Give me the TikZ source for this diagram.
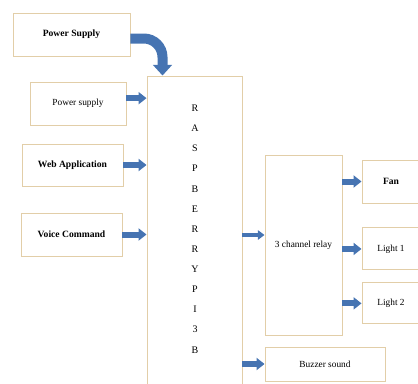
\documentclass[tikz,border=0pt]{standalone}
\usepackage{fontspec}
\setmainfont{Liberation Serif}
\usetikzlibrary{positioning,arrows.meta}
\definecolor{boxtan}{RGB}{226,206,168}
\definecolor{arrblue}{RGB}{70,116,178}

\begin{document}
\begin{tikzpicture}[x=0.75pt,y=-0.75pt,
    every node/.style={inner sep=0pt},
    blk/.style={draw=boxtan,line width=0.7pt,fill=white,align=center,font=\fontsize{7}{8}\selectfont},
    bblk/.style={blk,font=\fontsize{7.2}{8}\selectfont\bfseries},
    arr/.style={draw=arrblue,line width=4.5pt,-{Triangle[width=9pt,length=6pt]}},
    thinarr/.style={draw=arrblue,line width=2.6pt,-{Triangle[width=7pt,length=5pt]}},
    bigarr/.style={draw=arrblue,line width=7.5pt,rounded corners=14pt,-{Triangle[width=14pt,length=8pt]}}]
    \useasboundingbox (0,0) rectangle (418,383);

    \node [bblk, minimum width=87.75pt, minimum height=32.25pt] (ps1) at (71.5,34.5) {Power Supply};
    \node [blk, minimum width=72pt, minimum height=32.25pt] (ps2) at (78,103.5) {Power supply};
    \node [bblk, minimum width=75.75pt, minimum height=31.5pt] (web) at (72.5,165) {Web Application};
    \node [bblk, minimum width=75.75pt, minimum height=32.25pt] (voice) at (71.5,234.5) {Voice Command};

    \node [blk, minimum width=71.25pt, minimum height=243pt] (rpi) at (194.5,238) {};
    \node [font=\fontsize{7.5}{15.1}\selectfont, align=center] (rpiname) at (195,229)
        {R\\A\\S\\P\\B\\E\\R\\R\\Y\\P\\I\\3\\B};

    \node [blk, minimum width=57.75pt, minimum height=135pt] (relay) at (303.5,245) {3 channel relay};
    \node [bblk, minimum width=43.5pt, minimum height=32.25pt] (fan) at (391,181.5) {Fan};
    \node [blk, minimum width=43.5pt, minimum height=31.5pt, below=18pt of fan] (light1) {Light 1};
    \node [blk, minimum width=43.5pt, minimum height=30.75pt, below=9pt of light1] (light2) {Light 2};
    \node [blk, minimum width=90pt, minimum height=25.5pt] (buzzer) at (325,364) {Buzzer sound};

    \coordinate [yshift=-3pt] (psout) at (ps1.east);
    \coordinate [xshift=-24pt] (rpiin) at (rpi.north);
    \coordinate [yshift=4pt] (ps2out) at (ps2.east);
    \coordinate [yshift=7.5pt] (relayin) at (relay.west);

    \draw [bigarr] (psout) -| (rpiin);
    \draw [arr] (ps2out) -- (ps2out -| rpi.west);
    \draw [arr] (web.east) -- (web.east -| rpi.west);
    \draw [arr] (voice.east) -- (voice.east -| rpi.west);
    \draw [thinarr] (relayin -| rpi.east) -- (relayin);
    \draw [arr] (buzzer.west -| rpi.east) -- (buzzer.west);
    \draw [arr] (fan.west -| relay.east) -- (fan.west);
    \draw [arr] (light1.west -| relay.east) -- (light1.west);
    \draw [arr] (light2.west -| relay.east) -- (light2.west);
\end{tikzpicture}
\end{document}
